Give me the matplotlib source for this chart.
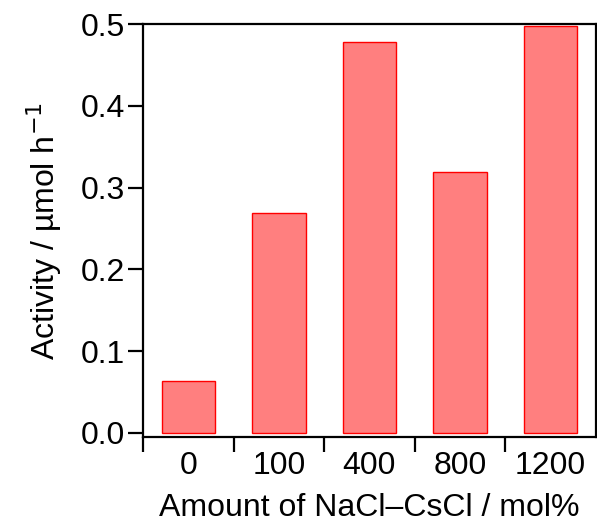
import numpy as np
import matplotlib.pyplot as plt

plt.rcParams['font.family'] = ['Liberation Sans', 'DejaVu Sans']

# NaCl-CsCl amount (mol%) and activity (umol/h)
amounts = ['0', '100', '400', '800', '1200']
activity = [0.064, 0.269, 0.478, 0.319, 0.498]

fig = plt.figure(figsize=(5.97, 5.24), dpi=100)
ax = fig.add_axes([0.2395, 0.166, 0.7585, 0.788])

x = np.arange(len(amounts))
ax.bar(x, activity, width=0.59, color='#ff7f7f', edgecolor='#ff0000', linewidth=1)

ax.set_xlim(-0.5, len(amounts) - 0.5)
ax.set_ylim(-0.005, 0.5)

# labels at bar centres, tick marks between bars
ax.set_xticks(x)
ax.set_xticklabels(amounts)
ax.set_xticks(np.arange(len(amounts)) - 0.5, minor=True)
ax.tick_params(axis='x', which='major', length=0, pad=10, labelsize=23)
ax.tick_params(axis='x', which='minor', length=11, width=1.6, direction='out')

ax.set_yticks([0.0, 0.1, 0.2, 0.3, 0.4, 0.5])
ax.set_yticklabels(['0.0', '0.1', '0.2', '0.3', '0.4', '0.5'])
ax.tick_params(axis='y', length=11, width=1.6, direction='out', labelsize=23, pad=2)

for s in ax.spines.values():
    s.set_linewidth(1.6)

ax.set_xlabel('Amount of NaCl\u2013CsCl / mol%', fontsize=23, labelpad=9)
ax.set_ylabel('Activity / \u00b5mol h$^{\u22121}$', fontsize=23, labelpad=12)

plt.savefig('out.png', dpi=100)
